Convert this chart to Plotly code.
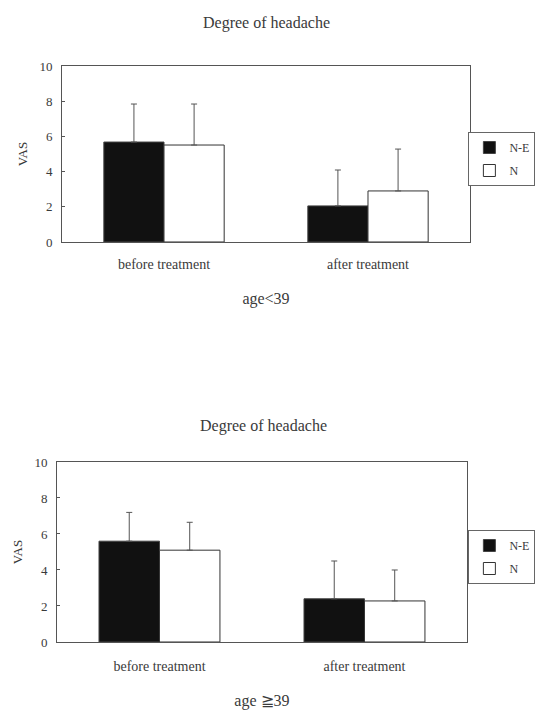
import plotly.graph_objects as go

categories = ["before treatment", "after treatment"]
series_names = ["N-E", "N"]

# age < 39
young_ne = [5.68, 2.05]
young_ne_err = [7.84, 4.09]   # top of error bar
young_n = [5.51, 2.90]
young_n_err = [7.84, 5.28]

# age >= 39
old_ne = [5.60, 2.40]
old_ne_err = [7.20, 4.50]
old_n = [5.10, 2.28]
old_n_err = [6.65, 4.00]

y_ticks = [0, 2, 4, 6, 8, 10]
titles = ["Degree of headache", "Degree of headache"]
subtitles = ["age<39", "age ≧39"]

FONT = "Liberation Serif, Times New Roman, serif"
TXT = "#3a3a3a"
LINE = "#555555"

fig = go.Figure()

def add_pair(ne, ne_top, n, n_top, xa, ya, leg, grp):
    fig.add_trace(go.Bar(
        x=categories, y=ne, name=series_names[0], xaxis=xa, yaxis=ya, legend=leg,
        legendgroup=grp + "a",
        marker=dict(color="#111111", line=dict(color="#444444", width=1)),
        error_y=dict(type="data", symmetric=False,
                     array=[t - v for t, v in zip(ne_top, ne)],
                     arrayminus=[0, 0], color=LINE, thickness=1, width=3),
    ))
    fig.add_trace(go.Bar(
        x=categories, y=n, name=series_names[1], xaxis=xa, yaxis=ya, legend=leg,
        legendgroup=grp + "b",
        marker=dict(color="#ffffff", line=dict(color="#333333", width=1)),
        error_y=dict(type="data", symmetric=False,
                     array=[t - v for t, v in zip(n_top, n)],
                     arrayminus=[0, 0], color=LINE, thickness=1, width=3),
    ))

add_pair(young_ne, young_ne_err, young_n, young_n_err, "x", "y", "legend", "g1")
add_pair(old_ne, old_ne_err, old_n, old_n_err, "x2", "y2", "legend2", "g2")

def xax(domain, anchor, title, lab_off, title_off):
    return dict(domain=domain, anchor=anchor, showline=True, linecolor=LINE, linewidth=1,
                mirror=True, ticks="", showgrid=False, zeroline=False, automargin=False,
                tickfont=dict(family=FONT, size=14, color=TXT), ticklabelstandoff=lab_off,
                title=dict(text=title, font=dict(family=FONT, size=16, color=TXT),
                           standoff=title_off))

def yax(domain, anchor):
    return dict(domain=domain, anchor=anchor, range=[0, 10], tickvals=y_ticks,
                showline=True, linecolor=LINE, linewidth=1, mirror=True, automargin=False,
                ticks="inside", ticklen=3, tickcolor=LINE, showgrid=False, zeroline=False,
                tickfont=dict(family=FONT, size=13, color=TXT), ticklabelstandoff=6,
                title=dict(text="VAS", font=dict(family=FONT, size=13, color=TXT), standoff=8))

leg_common = dict(bordercolor="#666666", borderwidth=1, bgcolor="white",
                  font=dict(family=FONT, size=12, color=TXT), itemwidth=30,
                  tracegroupgap=4, xanchor="right", yanchor="top",
                  traceorder="grouped")

fig.update_layout(
    width=537, height=710,
    margin=dict(l=0, r=0, t=0, b=0),
    paper_bgcolor="white", plot_bgcolor="white",
    barmode="group", bargap=0.41, bargroupgap=0,
    showlegend=True,
    xaxis=xax([0.1155, 0.8752], "y", subtitles[0], 9, 22),
    yaxis=yax([0.6592, 0.9070], "x"),
    xaxis2=xax([0.1061, 0.8696], "y2", subtitles[1], 11, 24),
    yaxis2=yax([0.0958, 0.3493], "x2"),
    legend=dict(x=0.997, y=1 - 132 / 710, **leg_common),
    legend2=dict(x=0.997, y=1 - 530 / 710, **leg_common),
    annotations=[
        dict(text=titles[0], x=0.497, y=1 - 23 / 710, xref="paper", yref="paper",
             yanchor="middle", showarrow=False, font=dict(family=FONT, size=16, color=TXT)),
        dict(text=titles[1], x=0.49, y=1 - 426 / 710, xref="paper", yref="paper",
             yanchor="middle", showarrow=False, font=dict(family=FONT, size=16, color=TXT)),
    ],
)

fig.write_html(
    "out.html",
    config={"displayModeBar": False},
    post_script="document.body.style.margin='0';document.body.style.overflow='hidden';",
)
